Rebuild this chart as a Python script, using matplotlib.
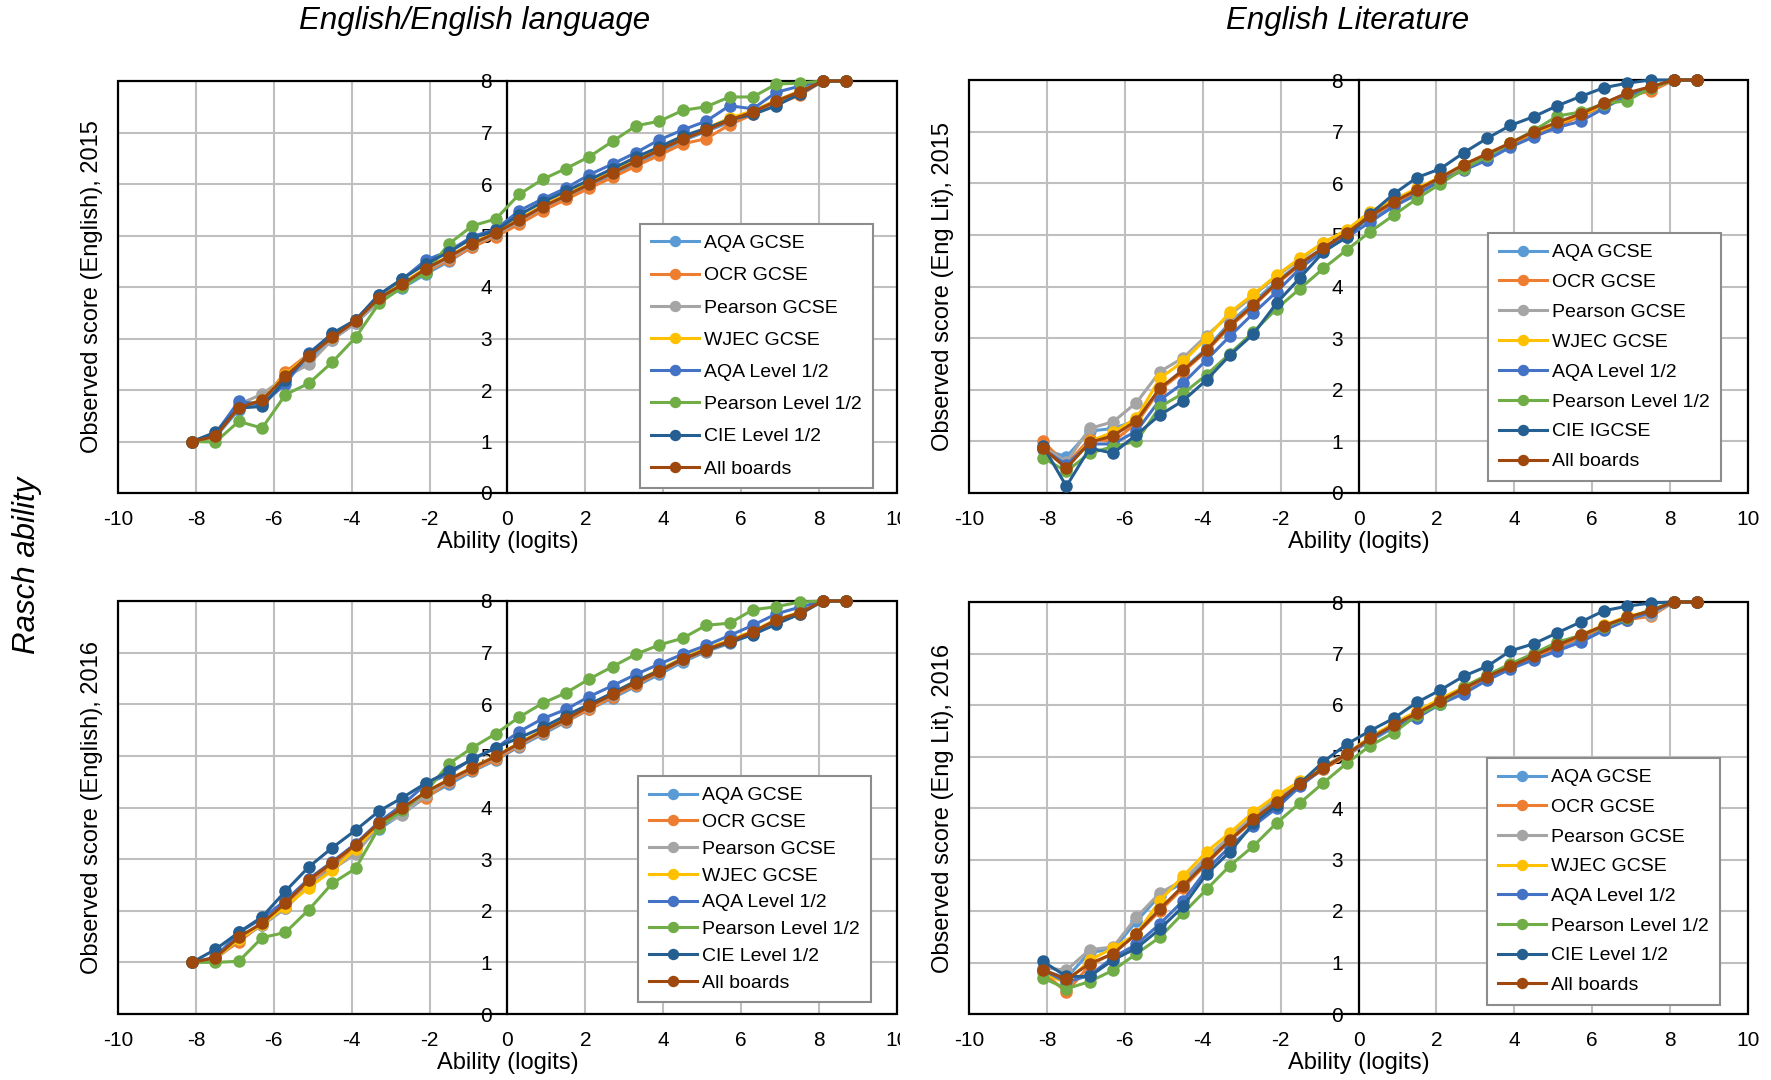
import matplotlib.pyplot as plt
from matplotlib.patches import Rectangle
from matplotlib.transforms import Bbox, TransformedBbox

plt.rcParams['font.family'] = ['Liberation Sans', 'DejaVu Sans']
plt.rcParams['axes.unicode_minus'] = False

# ability bins (logits)
ability = [-8.1, -7.5, -6.9, -6.3, -5.7, -5.1, -4.5, -3.9, -3.3, -2.7, -2.1, -1.5, -0.9, -0.3,
           0.3, 0.9, 1.5, 2.1, 2.7, 3.3, 3.9, 4.5, 5.1, 5.7, 6.3, 6.9, 7.5, 8.1, 8.7]

# English / English language, 2015
eng15_aqa_gcse = [1.00, 1.08, 1.62, 1.75, 2.20, 2.60, 2.98, 3.30, 3.72, 3.98, 4.25, 4.50, 4.78, 5.00, 5.25, 5.50, 5.72, 5.95, 6.18, 6.40, 6.62, 6.84, 7.02, 7.20, 7.38, 7.58, 7.76, 8.00, 8.00]
eng15_ocr = [1.00, 1.12, 1.70, 1.78, 2.35, 2.70, 3.00, 3.32, 3.75, 4.02, 4.30, 4.52, 4.78, 4.98, 5.22, 5.48, 5.70, 5.92, 6.13, 6.35, 6.56, 6.78, 6.88, 7.15, 7.35, 7.55, 7.72, 8.00, 8.00]
eng15_pearson_gcse = [1.00, 1.08, 1.72, 1.92, 2.25, 2.50, 2.98, 3.30, 3.72, 4.02, 4.32, 4.56, 4.82, 5.02, 5.28, 5.55, 5.76, 6.00, 6.22, 6.44, 6.66, 6.88, 7.05, 7.25, 7.42, 7.62, 7.80, 8.00, 8.00]
eng15_wjec = [1.00, 1.10, 1.68, 1.80, 2.30, 2.68, 3.03, 3.35, 3.80, 4.07, 4.37, 4.60, 4.86, 5.06, 5.32, 5.58, 5.80, 6.03, 6.26, 6.48, 6.72, 6.92, 7.08, 7.28, 7.42, 7.62, 7.80, 8.00, 8.00]
eng15_aqa12 = [1.00, 1.15, 1.78, 1.72, 2.12, 2.72, 3.08, 3.35, 3.85, 4.15, 4.52, 4.70, 4.98, 5.12, 5.48, 5.71, 5.92, 6.18, 6.39, 6.61, 6.86, 7.05, 7.22, 7.52, 7.46, 7.78, 7.90, 8.00, 8.00]
eng15_pearson12 = [1.00, 0.99, 1.39, 1.26, 1.91, 2.13, 2.54, 3.02, 3.68, 4.00, 4.28, 4.84, 5.19, 5.32, 5.80, 6.09, 6.30, 6.53, 6.83, 7.13, 7.22, 7.43, 7.50, 7.69, 7.69, 7.94, 7.96, 8.00, 8.00]
eng15_cie = [1.00, 1.18, 1.65, 1.68, 2.20, 2.70, 3.10, 3.36, 3.85, 4.16, 4.45, 4.68, 4.95, 5.10, 5.40, 5.65, 5.86, 6.08, 6.30, 6.52, 6.72, 6.93, 7.08, 7.25, 7.35, 7.52, 7.75, 8.00, 8.00]
eng15_all = [1.00, 1.10, 1.66, 1.80, 2.27, 2.66, 3.02, 3.34, 3.78, 4.05, 4.35, 4.59, 4.84, 5.05, 5.30, 5.56, 5.77, 6.00, 6.22, 6.44, 6.66, 6.87, 7.04, 7.24, 7.40, 7.61, 7.79, 8.00, 8.00]

# English Literature, 2015
lit15_aqa_gcse = [0.85, 0.70, 1.20, 1.25, 1.40, 2.00, 2.40, 2.80, 3.30, 3.70, 4.10, 4.45, 4.75, 5.02, 5.32, 5.60, 5.82, 6.06, 6.30, 6.52, 6.74, 6.95, 7.12, 7.30, 7.50, 7.72, 7.84, 8.00, 8.00]
lit15_ocr = [1.00, 0.55, 1.05, 1.00, 1.35, 2.00, 2.35, 2.75, 3.22, 3.62, 4.05, 4.42, 4.74, 5.02, 5.35, 5.62, 5.85, 6.08, 6.33, 6.55, 6.75, 6.95, 7.10, 7.30, 7.50, 7.70, 7.78, 8.00, 8.00]
lit15_pearson_gcse = [0.90, 0.60, 1.25, 1.38, 1.75, 2.35, 2.62, 3.05, 3.45, 3.82, 4.20, 4.52, 4.85, 5.08, 5.40, 5.65, 5.88, 6.10, 6.34, 6.56, 6.78, 7.00, 7.17, 7.35, 7.55, 7.74, 7.86, 8.00, 8.00]
lit15_wjec = [0.85, 0.50, 1.00, 1.18, 1.45, 2.22, 2.55, 3.00, 3.50, 3.85, 4.22, 4.55, 4.85, 5.10, 5.45, 5.68, 5.90, 6.12, 6.36, 6.57, 6.78, 6.98, 7.16, 7.32, 7.52, 7.72, 7.84, 8.00, 8.00]
lit15_aqa12 = [0.85, 0.55, 0.95, 0.95, 1.20, 1.80, 2.13, 2.58, 3.04, 3.48, 3.90, 4.35, 4.70, 4.95, 5.25, 5.55, 5.78, 6.05, 6.25, 6.45, 6.70, 6.90, 7.08, 7.20, 7.45, 7.70, 7.85, 8.00, 8.00]
lit15_pearson12 = [0.68, 0.42, 0.77, 0.90, 1.00, 1.67, 1.93, 2.29, 2.70, 3.12, 3.57, 3.96, 4.35, 4.71, 5.06, 5.38, 5.70, 5.99, 6.28, 6.52, 6.78, 7.02, 7.30, 7.38, 7.54, 7.60, 7.85, 8.00, 8.00]
lit15_cie = [0.91, 0.13, 0.87, 0.77, 1.13, 1.51, 1.79, 2.19, 2.67, 3.08, 3.68, 4.17, 4.67, 4.96, 5.40, 5.79, 6.11, 6.28, 6.59, 6.87, 7.12, 7.29, 7.50, 7.68, 7.85, 7.94, 8.00, 8.00, 8.00]
lit15_all = [0.87, 0.48, 0.98, 1.11, 1.40, 2.03, 2.38, 2.77, 3.25, 3.64, 4.07, 4.44, 4.75, 5.04, 5.37, 5.64, 5.87, 6.11, 6.36, 6.57, 6.78, 7.00, 7.18, 7.34, 7.55, 7.75, 7.87, 8.00, 8.00]

# English / English language, 2016
eng16_aqa_gcse = [1.00, 1.06, 1.45, 1.72, 2.05, 2.50, 2.85, 3.20, 3.58, 3.88, 4.20, 4.45, 4.70, 4.92, 5.18, 5.42, 5.66, 5.90, 6.12, 6.35, 6.58, 6.82, 7.02, 7.18, 7.36, 7.58, 7.74, 8.00, 8.00]
eng16_ocr = [1.00, 1.08, 1.40, 1.74, 2.12, 2.55, 2.90, 3.25, 3.68, 3.96, 4.18, 4.50, 4.72, 4.94, 5.20, 5.45, 5.68, 5.90, 6.15, 6.38, 6.62, 6.85, 7.04, 7.20, 7.38, 7.60, 7.75, 8.00, 8.00]
eng16_pearson_gcse = [1.00, 1.06, 1.45, 1.72, 2.05, 2.50, 2.80, 3.10, 3.65, 3.85, 4.25, 4.52, 4.76, 4.98, 5.22, 5.46, 5.70, 5.95, 6.18, 6.42, 6.64, 6.86, 7.05, 7.22, 7.40, 7.62, 7.76, 8.00, 8.00]
eng16_wjec = [1.00, 1.08, 1.45, 1.74, 2.08, 2.45, 2.78, 3.20, 3.68, 3.98, 4.30, 4.55, 4.78, 5.00, 5.25, 5.50, 5.73, 5.98, 6.22, 6.45, 6.67, 6.90, 7.08, 7.24, 7.42, 7.64, 7.78, 8.00, 8.00]
eng16_aqa12 = [1.00, 1.10, 1.58, 1.85, 2.20, 2.62, 2.95, 3.30, 3.72, 4.05, 4.45, 4.65, 4.95, 5.15, 5.47, 5.72, 5.90, 6.15, 6.36, 6.58, 6.78, 6.97, 7.14, 7.33, 7.53, 7.75, 7.88, 8.00, 8.00]
eng16_pearson12 = [1.00, 1.00, 1.02, 1.48, 1.58, 2.02, 2.53, 2.82, 3.61, 3.95, 4.30, 4.85, 5.16, 5.43, 5.75, 6.02, 6.22, 6.49, 6.73, 6.97, 7.15, 7.28, 7.53, 7.57, 7.83, 7.89, 7.98, 8.00, 8.00]
eng16_cie = [1.00, 1.25, 1.58, 1.88, 2.38, 2.85, 3.22, 3.56, 3.93, 4.19, 4.47, 4.70, 4.93, 5.16, 5.35, 5.55, 5.78, 6.00, 6.22, 6.45, 6.65, 6.88, 7.05, 7.20, 7.35, 7.55, 7.75, 8.00, 8.00]
eng16_all = [1.00, 1.09, 1.49, 1.76, 2.15, 2.60, 2.93, 3.28, 3.70, 3.99, 4.30, 4.54, 4.77, 4.99, 5.24, 5.48, 5.71, 5.96, 6.19, 6.42, 6.64, 6.87, 7.06, 7.22, 7.40, 7.63, 7.77, 8.00, 8.00]

# English Literature, 2016
lit16_aqa_gcse = [0.85, 0.70, 1.20, 1.25, 1.80, 2.30, 2.55, 3.00, 3.40, 3.80, 4.15, 4.48, 4.76, 5.02, 5.30, 5.56, 5.78, 6.02, 6.26, 6.50, 6.72, 6.92, 7.10, 7.28, 7.48, 7.66, 7.80, 8.00, 8.00]
lit16_ocr = [0.82, 0.42, 0.95, 1.18, 1.55, 2.00, 2.45, 2.92, 3.36, 3.76, 4.10, 4.45, 4.75, 5.02, 5.33, 5.58, 5.82, 6.05, 6.30, 6.52, 6.72, 6.92, 7.12, 7.32, 7.50, 7.66, 7.72, 8.00, 8.00]
lit16_pearson_gcse = [0.90, 0.85, 1.25, 1.30, 1.88, 2.35, 2.60, 3.05, 3.45, 3.85, 4.20, 4.50, 4.80, 5.06, 5.36, 5.62, 5.85, 6.08, 6.32, 6.55, 6.76, 6.97, 7.17, 7.36, 7.54, 7.70, 7.75, 8.00, 8.00]
lit16_wjec = [0.80, 0.60, 1.05, 1.28, 1.55, 2.20, 2.68, 3.15, 3.52, 3.92, 4.25, 4.52, 4.80, 5.05, 5.38, 5.64, 5.88, 6.12, 6.35, 6.58, 6.78, 6.98, 7.18, 7.36, 7.55, 7.72, 7.82, 8.00, 8.00]
lit16_aqa12 = [0.85, 0.62, 0.75, 1.10, 1.35, 1.75, 2.20, 2.80, 3.25, 3.65, 4.00, 4.42, 4.78, 5.05, 5.32, 5.58, 5.75, 6.02, 6.22, 6.48, 6.70, 6.88, 7.05, 7.22, 7.45, 7.65, 7.80, 8.00, 8.00]
lit16_pearson12 = [0.70, 0.49, 0.63, 0.85, 1.17, 1.49, 1.96, 2.42, 2.88, 3.26, 3.71, 4.10, 4.49, 4.87, 5.21, 5.46, 5.80, 6.02, 6.35, 6.58, 6.80, 7.00, 7.22, 7.35, 7.52, 7.68, 7.85, 8.00, 8.00]
lit16_cie = [1.02, 0.73, 0.73, 1.05, 1.28, 1.65, 2.09, 2.72, 3.15, 3.70, 4.06, 4.48, 4.90, 5.24, 5.50, 5.74, 6.05, 6.29, 6.56, 6.75, 7.05, 7.19, 7.40, 7.61, 7.83, 7.92, 7.98, 8.00, 8.00]
lit16_all = [0.86, 0.67, 0.98, 1.17, 1.56, 2.04, 2.49, 2.94, 3.38, 3.78, 4.12, 4.47, 4.77, 5.05, 5.35, 5.61, 5.84, 6.08, 6.32, 6.55, 6.75, 6.96, 7.16, 7.35, 7.54, 7.70, 7.83, 8.00, 8.00]

labels_level = ['AQA GCSE', 'OCR GCSE', 'Pearson GCSE', 'WJEC GCSE', 'AQA Level 1/2',
                'Pearson Level 1/2', 'CIE Level 1/2', 'All boards']
labels_igcse = ['AQA GCSE', 'OCR GCSE', 'Pearson GCSE', 'WJEC GCSE', 'AQA Level 1/2',
                'Pearson Level 1/2', 'CIE IGCSE', 'All boards']
colors = ['#5B9BD5', '#ED7D31', '#A5A5A5', '#FFC000', '#4472C4', '#70AD47', '#255E91', '#9E480E']

W, H = 1771, 1080
fig = plt.figure(figsize=(W / 100, H / 100), dpi=100)


def px_rect(left, top, right, bottom):
    return [left / W, 1 - bottom / H, (right - left) / W, (bottom - top) / H]


def draw_panel(rect, series, labels, ylabel, leg_xy, leg_spacing, clip_last_tick=False):
    ax = fig.add_axes(px_rect(*rect))
    for ys, lab, col in zip(series, labels, colors):
        ax.plot(ability, ys, color=col, lw=2.2, marker='o', ms=8, label=lab,
                clip_on=False, zorder=3)
    ax.set_xlim(-10, 10)
    ax.set_ylim(0, 8)
    ax.set_xticks(range(-10, 11, 2))
    ax.set_yticks(range(0, 9))
    ax.grid(color='#BFBFBF', lw=1.5)
    ax.set_axisbelow(True)
    # value axis crosses at ability = 0
    for side in ['top', 'right', 'bottom']:
        ax.spines[side].set_visible(False)
    ax.spines['left'].set_position(('data', 0))
    ax.spines['left'].set_linewidth(1.6)
    ax.add_patch(Rectangle((0, 0), 1, 1, transform=ax.transAxes, fill=False,
                           edgecolor='black', lw=1.6, clip_on=False, zorder=2.6))
    ax.tick_params(axis='both', length=0, labelsize=15)
    ax.tick_params(axis='x', pad=12)
    ax.tick_params(axis='y', pad=11)
    ax.set_xlabel('Ability (logits)', fontsize=17, labelpad=2)
    ax.set_ylabel(ylabel, fontsize=17)
    ax.yaxis.set_label_coords(-0.034, 0.5)
    ax.yaxis.label.set_verticalalignment('center')
    leg = ax.legend(loc='upper left', bbox_to_anchor=(leg_xy[0] / W, 1 - leg_xy[1] / H),
                    bbox_transform=fig.transFigure, borderaxespad=0, fontsize=14,
                    frameon=True, fancybox=False, framealpha=1, edgecolor='#8C8C8C',
                    handlelength=2.5, handletextpad=0.25, labelspacing=leg_spacing,
                    borderpad=0.55, markerscale=0.9)
    leg.get_frame().set_linewidth(1.5)
    if clip_last_tick:
        ax.figure.canvas.draw()
        lab = ax.xaxis.get_major_ticks()[-1].label1
        lab.set_clip_box(TransformedBbox(Bbox([[0, 0], [900 / W, 1]]), fig.transFigure))
        lab.set_clip_on(True)
    return ax


draw_panel((118, 81, 897, 493),
           [eng15_aqa_gcse, eng15_ocr, eng15_pearson_gcse, eng15_wjec,
            eng15_aqa12, eng15_pearson12, eng15_cie, eng15_all],
           labels_level, 'Observed score (English), 2015', (640, 224), 0.75, True)
draw_panel((969, 80, 1748, 493),
           [lit15_aqa_gcse, lit15_ocr, lit15_pearson_gcse, lit15_wjec,
            lit15_aqa12, lit15_pearson12, lit15_cie, lit15_all],
           labels_igcse, 'Observed score (Eng Lit), 2015', (1488, 233), 0.63)
draw_panel((118, 601, 897, 1014),
           [eng16_aqa_gcse, eng16_ocr, eng16_pearson_gcse, eng16_wjec,
            eng16_aqa12, eng16_pearson12, eng16_cie, eng16_all],
           labels_level, 'Observed score (English), 2016', (638, 776), 0.47, True)
draw_panel((969, 602, 1748, 1014),
           [lit16_aqa_gcse, lit16_ocr, lit16_pearson_gcse, lit16_wjec,
            lit16_aqa12, lit16_pearson12, lit16_cie, lit16_all],
           labels_level, 'Observed score (Eng Lit), 2016', (1487, 758), 0.62)

fig.text(475 / W, 1 - 21 / H, 'English/English language', fontsize=22.5, style='italic',
         ha='center', va='center')
fig.text(1348 / W, 1 - 21 / H, 'English Literature', fontsize=22.5, style='italic',
         ha='center', va='center')
fig.text(27 / W, 1 - 565 / H, 'Rasch ability', fontsize=22.5, style='italic',
         rotation=90, ha='center', va='center')

fig.savefig('out.png', dpi=100, facecolor='white')
